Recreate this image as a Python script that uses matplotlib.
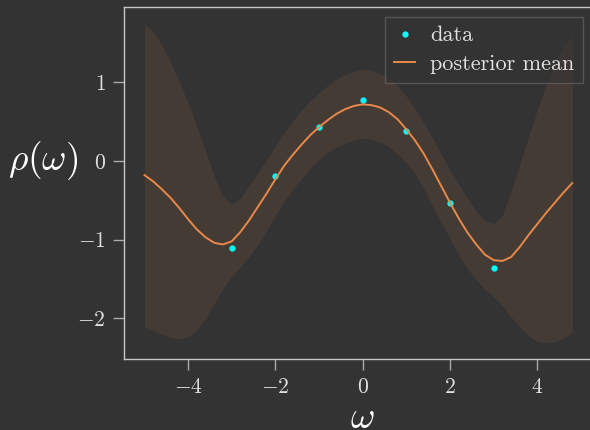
import numpy as np
import matplotlib
matplotlib.use("Agg")
import matplotlib.pyplot as plt

###--- Data
# observed points
x_data = [-3, -2, -1, 0, 1, 2, 3]
y_data = [-1.10, -0.19, 0.43, 0.78, 0.385, -0.535, -1.355]

# prediction grid (-5 .. 4.8, step 0.2)
x_grid = np.arange(-5.0, 4.81, 0.2)

post_mean = [-0.18, -0.26, -0.36, -0.47, -0.60, -0.74, -0.87, -0.97, -1.04, -1.06,
             -1.02, -0.90, -0.75, -0.58, -0.41, -0.23, -0.06, 0.08, 0.21, 0.33,
             0.43, 0.52, 0.60, 0.66, 0.70, 0.72, 0.71, 0.68, 0.62, 0.53,
             0.40, 0.26, 0.09, -0.11, -0.32, -0.53, -0.73, -0.91, -1.06, -1.19,
             -1.26, -1.27, -1.22, -1.09, -0.94, -0.80, -0.66, -0.53, -0.40, -0.28]

upper = [1.74, 1.64, 1.47, 1.25, 1.00, 0.73, 0.44, 0.12, -0.20, -0.45,
         -0.55, -0.47, -0.31, -0.15, 0.02, 0.19, 0.36, 0.51, 0.65, 0.77,
         0.87, 0.96, 1.04, 1.10, 1.14, 1.16, 1.15, 1.11, 1.05, 0.95,
         0.82, 0.66, 0.48, 0.29, 0.08, -0.12, -0.30, -0.47, -0.64, -0.76,
         -0.80, -0.69, -0.38, -0.04, 0.31, 0.65, 0.96, 1.22, 1.44, 1.60]

lower = [-2.10, -2.15, -2.20, -2.24, -2.26, -2.23, -2.15, -2.00, -1.81, -1.62,
         -1.46, -1.34, -1.21, -1.06, -0.88, -0.69, -0.51, -0.36, -0.22, -0.09,
         0.02, 0.11, 0.18, 0.23, 0.27, 0.29, 0.28, 0.24, 0.18, 0.09,
         -0.02, -0.16, -0.35, -0.57, -0.78, -0.99, -1.19, -1.37, -1.51, -1.63,
         -1.73, -1.84, -1.98, -2.11, -2.22, -2.29, -2.31, -2.30, -2.25, -2.18]

###--- Style
bg = "#333333"
orange = "#e8894a"

plt.rcParams["font.family"] = "serif"
plt.rcParams["font.serif"] = ["cmr10"]
plt.rcParams["mathtext.fontset"] = "cm"
plt.rcParams["axes.formatter.use_mathtext"] = True

fig = plt.figure(figsize=(5.9, 4.3), dpi=100, facecolor=bg)
ax = fig.add_axes([124/590, 1 - 359/430, (601.5 - 124)/590, 352/430])
ax.set_facecolor(bg)

ax.fill_between(x_grid, lower, upper, color=orange, alpha=0.1, linewidth=0)
ax.plot(x_data, y_data, "o", color="cyan", markersize=3.5, label="data")
ax.plot(x_grid, post_mean, "-", color=orange, linewidth=1.4, label="posterior mean")

ax.set_xlim(-5.47, 5.47)
ax.set_ylim(-2.516, 1.957)
ax.set_xticks([-4, -2, 0, 2, 4])
ax.set_yticks([-2, -1, 0, 1])

for side in ["left", "bottom", "top", "right"]:
    ax.spines[side].set_color("#c8c8c8")
    ax.spines[side].set_linewidth(1.0)

ax.tick_params(colors="#aaaaaa", labelcolor="#e0e0e0", labelsize=15.5,
               length=8, width=1.0, pad=5)

ax.set_xlabel(r"$\omega$", fontsize=27, color="white", va="top")
ax.xaxis.set_label_coords(0.5, -0.122)
ax.set_ylabel(r"$\rho(\omega)$", fontsize=27, color="white", rotation=0,
              ha="center", va="center")
ax.yaxis.set_label_coords(-0.17, 0.5625)

leg = ax.legend(loc="upper right", bbox_to_anchor=(583/590, 1 - 17/430),
                bbox_transform=fig.transFigure, borderaxespad=0,
                fontsize=16, facecolor=bg, edgecolor="#777777",
                framealpha=0.5, fancybox=False, handlelength=0.95,
                handletextpad=0.65, labelspacing=0.4, borderpad=0.4)
for t in leg.get_texts():
    t.set_color("#e0e0e0")

fig.savefig("out.png", dpi=100, facecolor=bg)
